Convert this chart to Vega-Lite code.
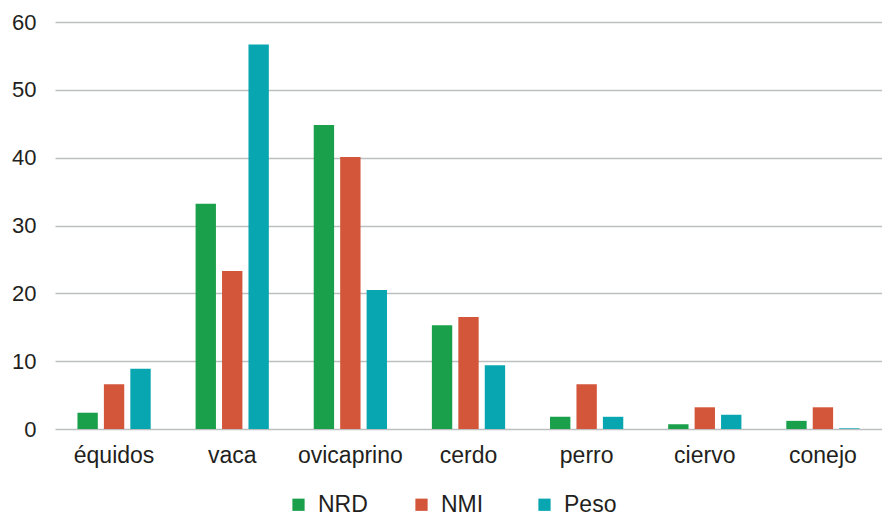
{
  "$schema": "https://vega.github.io/schema/vega-lite/v6.json",
  "autosize": {"type": "none"},
  "width": 827,
  "height": 407,
  "padding": {"left": 55, "top": 22, "right": 0, "bottom": 90},
  "background": "white",
  "config": {
    "view": {"stroke": null},
    "font": "Liberation Sans",
    "axis": {"labelFont": "Liberation Sans", "labelColor": "#231f20"},
    "legend": {"labelFont": "Liberation Sans", "labelColor": "#231f20"}
  },
  "data": {
    "values": [
      {"animal": "équidos", "serie": "NRD", "valor": 2.4},
      {"animal": "équidos", "serie": "NMI", "valor": 6.6},
      {"animal": "équidos", "serie": "Peso", "valor": 8.9},
      {"animal": "vaca", "serie": "NRD", "valor": 33.2},
      {"animal": "vaca", "serie": "NMI", "valor": 23.3},
      {"animal": "vaca", "serie": "Peso", "valor": 56.7},
      {"animal": "ovicaprino", "serie": "NRD", "valor": 44.8},
      {"animal": "ovicaprino", "serie": "NMI", "valor": 40.1},
      {"animal": "ovicaprino", "serie": "Peso", "valor": 20.5},
      {"animal": "cerdo", "serie": "NRD", "valor": 15.3},
      {"animal": "cerdo", "serie": "NMI", "valor": 16.5},
      {"animal": "cerdo", "serie": "Peso", "valor": 9.4},
      {"animal": "perro", "serie": "NRD", "valor": 1.8},
      {"animal": "perro", "serie": "NMI", "valor": 6.6},
      {"animal": "perro", "serie": "Peso", "valor": 1.8},
      {"animal": "ciervo", "serie": "NRD", "valor": 0.7},
      {"animal": "ciervo", "serie": "NMI", "valor": 3.2},
      {"animal": "ciervo", "serie": "Peso", "valor": 2.1},
      {"animal": "conejo", "serie": "NRD", "valor": 1.2},
      {"animal": "conejo", "serie": "NMI", "valor": 3.2},
      {"animal": "conejo", "serie": "Peso", "valor": 0.1}
    ]
  },
  "mark": {"type": "bar"},
  "encoding": {
    "x": {
      "field": "animal",
      "type": "nominal",
      "sort": ["équidos", "vaca", "ovicaprino", "cerdo", "perro", "ciervo", "conejo"],
      "scale": {"paddingInner": 0.38, "paddingOuter": 0.19},
      "axis": {
        "title": null,
        "labelAngle": 0,
        "labelFontSize": 23,
        "labelPadding": 15,
        "domain": false,
        "ticks": false
      }
    },
    "xOffset": {
      "field": "serie",
      "type": "nominal",
      "sort": ["NRD", "NMI", "Peso"],
      "scale": {"paddingInner": 0.23, "paddingOuter": 0}
    },
    "y": {
      "field": "valor",
      "type": "quantitative",
      "scale": {"domain": [0, 60], "nice": false},
      "axis": {
        "title": null,
        "values": [0, 10, 20, 30, 40, 50, 60],
        "labelFontSize": 22,
        "labelPadding": 19,
        "domain": false,
        "ticks": false,
        "grid": true,
        "gridColor": "#bcbec0",
        "gridWidth": 1.5
      }
    },
    "color": {
      "field": "serie",
      "type": "nominal",
      "sort": ["NRD", "NMI", "Peso"],
      "scale": {"domain": ["NRD", "NMI", "Peso"], "range": ["#1aa04b", "#d3553a", "#08a6b1"]},
      "legend": {
        "title": null,
        "orient": "none",
        "direction": "horizontal",
        "legendX": 232,
        "legendY": 471,
        "symbolType": "square",
        "symbolSize": 150,
        "symbolStrokeWidth": 0,
        "labelFontSize": 23,
        "labelOffset": 8,
        "gridAlign": "all",
        "columnPadding": 39
      }
    }
  }
}
